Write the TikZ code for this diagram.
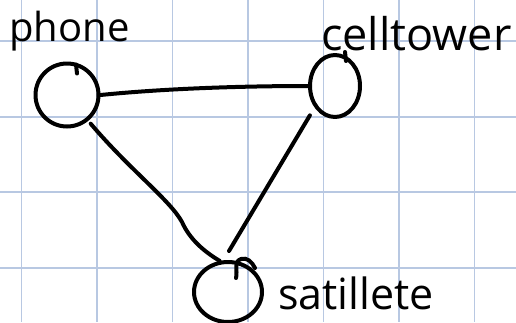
\documentclass[tikz,border=0pt]{standalone}
\usepackage{fontspec}
\setmainfont{Open Sans}
\usetikzlibrary{shapes.geometric}
\definecolor{gridblue}{RGB}{184,200,226}
\tikzset{
  ink/.style={line width=4pt, line cap=round, line join=round, black},
  blob/.style={ellipse, draw, ink, inner sep=0pt},
  word/.style={inner sep=0pt, anchor=base west, text=black},
}
\begin{document}
\begin{tikzpicture}[x=1pt, y=-1pt]
  % page frame and paper grid
  \useasboundingbox (0,0) rectangle (516,322);
  \fill[white] (0,0) rectangle (516,322);
  \foreach \gx in {21.5,97,172.5,248,323.5,399,474.5}
    \draw[gridblue, line width=1.5pt] (\gx,0) -- (\gx,322);
  \foreach \gy in {41,117,192,268}
    \draw[gridblue, line width=1.5pt] (0,\gy) -- (516,\gy);

  % the three stations
  \node[blob, minimum width=63pt, minimum height=63pt] (phone) at (67,95) {};
  \node[blob, minimum width=50pt, minimum height=62pt] (tower) at (335,86) {};
  \node[blob, minimum width=68pt, minimum height=60pt] (sat) at (228,292) {};

  % little pen flicks where each loop was closed
  \draw[ink] (phone.north) ++(9,3) -- ++(1,9);
  \draw[ink] (tower.north) ++(10,-1) -- ++(1,9);
  \draw[ink] (236,278) .. controls (238,270) and (233,262) .. (241,259)
                      .. controls (247,257) and (252,262) .. (255,268);

  % labels
  \node[word, font=\fontsize{40}{40}\selectfont] (phonelbl) at (9,41) {phone};
  \node[word, font=\fontsize{45}{45}\selectfont] (towerlbl) at (321,50) {celltower};
  \node[word, font=\fontsize{43}{43}\selectfont] (satlbl) at (278,309) {satillete};

  % links
  \draw[ink] (phone.east) .. controls (170,88) and (250,86) .. (tower.west);
  \draw[ink] (tower.south west) ++(-6,6) coordinate (tw) -- (229,251) coordinate (sw);
  \draw[ink] (phone.south east) ++(0,5) coordinate (pe)
     .. controls (130,170) and (170,200) .. (182,222)
     .. controls (190,240) and (205,252) .. (sat.105);
\end{tikzpicture}
\end{document}
